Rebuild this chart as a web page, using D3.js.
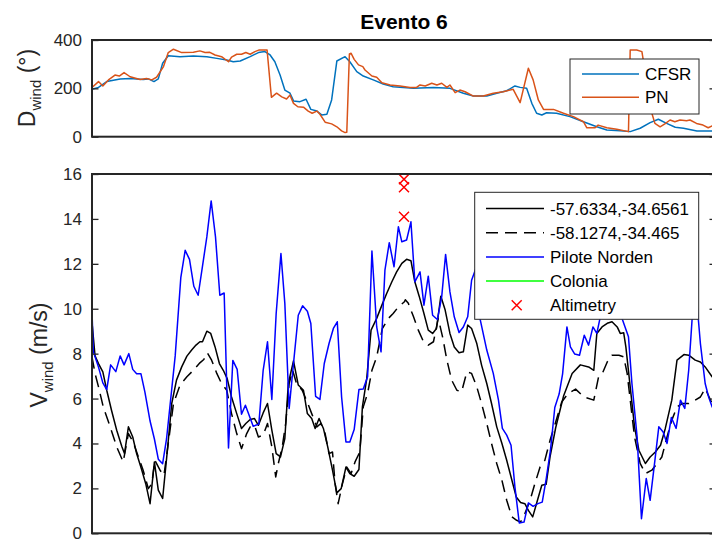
<!DOCTYPE html>
<html>
<head>
<meta charset="utf-8">
<script src="https://cdn.jsdelivr.net/npm/d3@7"></script>
<style>
  body { margin: 0; background: #fff; }
  svg { display: block; font-family: "Liberation Sans", Arial, Helvetica, sans-serif; }
</style>
</head>
<body>
<svg id="chart" width="712" height="539"></svg>
<script>
// ---- Event 6: hourly wind direction and speed (hours since start of event) ----
const hourDomain = [0, 144];
const dirTicks = [0, 200, 400];
const speedTicks = [0, 2, 4, 6, 8, 10, 12, 14, 16];

// Wind direction (degrees)
const cfsrDir = [[0,196],[1.5,204],[3.4,228],[6.5,239],[8.8,241],[11.8,237],[13,239],[14.3,228],[15.3,239],[16.3,304],[17.6,335],[20.3,331],[23.4,334],[26.5,331],[28.8,324],[31.1,317],[32.6,310],[34.2,313],[36.5,331],[38.4,348],[39.9,352],[41.1,338],[42.2,310],[43.4,255],[44.5,193],[45.7,180],[46.5,148],[48,145],[49.4,155],[50.5,113],[51.9,106],[53,90],[54.2,93],[55.3,152],[56.5,313],[58.4,331],[59.5,310],[61.1,269],[62.6,251],[64.9,235],[67.2,218],[69.5,207],[74.2,200],[78.8,204],[82.6,200],[85.7,180],[88,168],[91.1,168],[93.4,180],[95.7,190],[97.6,210],[98.8,204],[100.3,200],[101.5,138],[102.6,97],[103.8,90],[104.9,99],[107.2,97],[110.3,83],[113.4,62],[116.5,41],[118.8,28],[121.9,25],[124.2,21],[126.5,35],[128.8,58],[130.7,72],[132.6,55],[134.6,39],[136.5,35],[139.6,24],[143,24],[144,24]];
const pnDir = [[0,204],[1.5,228],[2.5,210],[3.8,235],[5.3,255],[6.3,251],[7.4,265],[8.8,248],[11.1,237],[12.6,241],[13.8,235],[14.9,246],[16.5,290],[17.6,348],[18.8,362],[20.7,348],[23.4,349],[24.9,355],[26.1,348],[27.2,349],[28.4,338],[29.9,331],[31.5,310],[32.2,329],[33.4,341],[34.5,341],[35.5,348],[36.5,341],[37.6,352],[38.6,359],[40.4,359],[41.4,163],[42.6,180],[43.8,165],[44.9,156],[45.7,172],[46.5,138],[47.5,124],[48.8,122],[49.9,106],[50.8,97],[51.9,106],[52.6,93],[53.8,60],[55.3,53],[56.5,41],[57.6,24],[58.4,17],[58.8,18],[59.4,342],[59.8,345],[60.5,320],[61.5,297],[62.5,290],[63,276],[64.6,251],[65.7,246],[66.9,223],[68.8,214],[71.1,210],[73.4,204],[74.9,204],[75.7,214],[76.9,210],[78.4,221],[79.6,214],[80.7,221],[81.9,204],[82.6,214],[83.8,182],[84.9,193],[86.1,186],[88,168],[90.3,168],[92.6,180],[94.9,186],[97.2,196],[98.8,141],[100.7,283],[101.8,235],[103,152],[104.2,113],[106.5,113],[108.8,97],[111.1,83],[113.4,62],[114.2,37],[116.1,37],[116.8,48],[118.8,37],[121.1,31],[123.8,21],[124.2,359],[125.7,359],[126.9,352],[129.2,97],[129.9,55],[131.1,41],[132.2,53],[133.4,69],[134.5,62],[135.7,69],[137.2,66],[138,69],[139.5,55],[141,48],[142.2,37],[143,44],[144,42]];

// Wind speed (m/s)
const gridA = [[0,9.4],[0.7,7.9],[1.5,7.56],[2.5,7.19],[3.4,6.37],[4.5,5.48],[5.7,4.59],[6.9,3.85],[7.5,3.55],[8.4,4.74],[9.4,4.29],[10.3,3.55],[11.5,2.81],[12.4,2.21],[13.4,1.32],[14.4,3.18],[15.3,1.92],[16.3,1.55],[17.4,3.7],[18.4,5.78],[19.5,6.82],[20.7,7.41],[21.9,7.89],[23,8.16],[24,8.38],[24.9,8.53],[25.5,8.53],[26.5,9],[27.4,8.9],[28.4,8.3],[29.4,7.56],[30.3,7.26],[31.2,6.89],[32.2,6.07],[33.4,5.33],[34.5,4.67],[35.5,4.89],[36.5,5.07],[37.5,5.11],[38.4,4.81],[39.5,5.36],[40.5,5.78],[41.5,4.59],[42.5,3.55],[43.5,3.4],[44.5,4.22],[45.3,6.67],[46.5,7.68],[47.6,6.6],[48.8,6.37],[49.7,5.33],[50.7,5.11],[51.5,4.67],[52.4,5.11],[53.4,4.67],[54.4,3.85],[55.5,2.81],[56.5,1.8],[57.5,1.99],[58.6,2.95],[59.5,2.66],[60.5,2.54],[61.6,2.84],[62.4,5.63],[63.4,6.89],[64.4,9.05],[65.7,9.57],[66.9,10.16],[68,10.68],[69.2,11.2],[70.3,11.64],[71.5,12.02],[72.6,12.2],[73.6,12.14],[74.5,11.2],[75.5,10.56],[76.6,9.79],[77.6,9.05],[78.6,8.9],[79.5,9.12],[80.5,10.56],[81.5,9.94],[82.6,8.9],[83.6,8.3],[84.7,8.04],[85.7,8.08],[86.7,9.27],[87.6,9.12],[88.8,8.45],[89.9,7.49],[91.1,6.67],[92.2,5.78],[93.4,4.74],[94.6,4],[95.7,3.25],[96.9,2.36],[97.9,1.62],[98.9,1.37],[99.9,1.32],[100.7,1.02],[101.7,0.73],[102.8,1.47],[103.8,2.14],[104.8,2.18],[105.7,3.4],[107,4.7],[108,5.48],[108.8,6.1],[110.8,7.12],[112.7,7.5],[114.6,7.41],[115.8,7.26],[116.5,8.9],[117.7,9.19],[118.9,9.35],[120,9.42],[121.2,9.19],[121.9,8.9],[122.7,8.93],[123.2,8.3],[124.2,6.52],[125.2,4.74],[126.2,3.7],[127.7,3.11],[128.8,3.4],[130,3.62],[131.2,3.92],[132.3,4.67],[133.8,5.93],[135,7.71],[136.6,7.96],[137.7,7.93],[139.2,7.71],[140.4,7.63],[141.5,7.41],[143.1,6.97],[144,6.8]];
const gridB = [[0,7.86],[0.7,7.12],[1.5,6.52],[2.6,5.63],[4.2,4.74],[5.7,3.85],[7.2,3.18],[8.4,4.44],[9.5,4.07],[10.7,3.4],[11.8,2.81],[13,1.99],[13.8,2.21],[14.5,3.25],[15.7,2.81],[16.6,2.58],[17.6,4],[18.8,5.78],[20.3,6.6],[21.9,6.97],[23.4,7.26],[24.9,7.59],[25.8,7.74],[26.6,8.04],[27.6,7.71],[28.8,7.12],[29.9,6.67],[31.1,6.37],[32.2,5.33],[33.4,4.44],[34.5,3.77],[35.7,4.44],[36.5,4.74],[37.5,4.81],[38.4,4.29],[39.5,4.37],[40.5,4.89],[41.5,3.85],[42.4,2.51],[43,3.11],[43.9,3.85],[44.7,4.89],[45.5,6.67],[46.3,7.26],[47.2,6.67],[48.5,6.37],[49.8,5.78],[50.7,5.33],[51.9,4.74],[52.8,4.89],[53.8,4.44],[54.7,3.55],[55.5,3.62],[56.1,2.21],[56.8,1.32],[57.8,2.21],[58.8,2.95],[59.8,2.66],[60.7,3.18],[61.8,3.62],[62.6,5.63],[63.6,6.23],[64.6,7.26],[65.7,7.86],[67,9.12],[68.4,9.57],[69.5,9.79],[70.7,10.08],[72.1,10.31],[72.3,10.4],[73,10.24],[74.2,9.64],[75.3,9.05],[76.5,8.53],[77.6,8.38],[78.8,8.53],[79.9,9.57],[80.9,8.75],[81.9,7.71],[83,6.82],[84.2,6.37],[85.3,6.3],[86.5,7.19],[87.6,7.12],[88.8,6.52],[89.9,5.78],[91.1,4.89],[92.2,4],[93.4,3.11],[94.6,2.36],[95.7,1.47],[96.9,0.73],[98,0.58],[98.9,0.5],[99.9,0.88],[101.1,1.47],[102.2,2.21],[103.4,2.95],[104.5,3.25],[105.7,4.14],[106.9,4.89],[108.4,5.85],[109.9,6.23],[111.6,6.42],[113.5,6.07],[115.8,5.93],[116.9,6.97],[117.7,7.09],[118.9,7.63],[120,7.93],[121.6,7.93],[122.7,7.86],[123.5,7.12],[124.3,5.78],[125.2,4.29],[126.5,3.11],[127.7,2.66],[129.2,2.81],[130.4,3.11],[131.5,3.4],[132.7,4.29],[133.8,5.04],[135,5.63],[136.2,5.78],[137.7,5.78],[139.2,5.93],[140.4,6.07],[141.5,6.45],[143.1,5.78],[144,5.6]];
const piloteNorden = [[0,9.9],[0.3,8.1],[1.5,7.4],[2.5,6.7],[3.4,6.4],[4.3,7.5],[5.5,7.2],[6.5,7.9],[7.4,7.5],[8.5,8],[9.4,7.3],[10.3,7.1],[11.3,7.1],[12.2,6.3],[13.4,5],[14.4,4.2],[15.3,3.3],[16.3,3.1],[17.2,4.2],[19.2,7.9],[20.5,11.4],[21.5,12.6],[22.5,12.2],[23.5,11],[24.5,10.6],[25.5,11.9],[26.5,13.2],[27.5,14.8],[28.5,13.2],[29.5,10.6],[30.5,10.7],[31.5,3.8],[32.5,7.7],[33.5,7.3],[34.5,5.3],[35.4,5.7],[37.2,4.77],[38.5,4.86],[39.5,7.26],[40.5,8.53],[41.5,5.96],[42.5,9.79],[43.6,12.46],[44.5,10.24],[45.5,5.56],[46.5,7.56],[47.6,9.71],[48.6,10.13],[49.7,9.89],[50.5,9.34],[51.6,6.1],[52.6,5.96],[53.6,7.56],[54.7,8.45],[55.7,9.12],[56.6,9.42],[57.6,6.07],[58.6,4.07],[59.5,4.07],[60.5,4.62],[61.6,6.4],[62.6,6.43],[63.6,6.97],[64.6,12.57],[65.7,9.19],[66.7,8.08],[67.6,11.72],[68.6,12.94],[69.7,11.87],[70.7,13.65],[71.5,12.98],[72.6,13.06],[73.6,13.87],[74.5,11.2],[75.7,11.64],[76.6,10.16],[77.6,11.45],[78.6,9.71],[79.7,9.52],[80.7,10.53],[81.6,12.42],[82.6,10.75],[83.6,9.64],[84.7,8.94],[85.7,9.19],[86.7,9.64],[87.6,11.27],[88.6,11.8],[89.6,9.5],[91.1,8.16],[92.6,7.12],[93.8,5.93],[94.7,4.67],[95.7,4.37],[96.7,3.92],[97.6,2.06],[98.6,0.46],[99.7,0.5],[100.7,1.35],[101.8,1.2],[102.9,1.32],[103.9,1.39],[104.8,2.4],[105.8,3.7],[106.8,5.6],[107.8,6.2],[108.6,7.1],[109.6,9.19],[110.4,8.3],[111.4,7.98],[112.5,7.93],[113.6,8.82],[114.6,8.38],[115.6,9.19],[116.5,8.9],[117.3,9.64],[118.4,11],[119.4,11.6],[120.5,10.8],[121.4,10.2],[122.3,9.58],[123.8,8.75],[124.6,6.67],[125.8,4.29],[126.8,0.65],[127.9,2.44],[128.8,1.47],[129.9,3.25],[130.8,4.74],[131.8,4.51],[132.7,4],[133.7,5.16],[134.8,4.67],[135.8,5.93],[136.8,5.56],[137.7,7.26],[138.5,9.58],[139.5,10.5],[140.4,8.45],[141.5,6.67],[142.3,6.07],[143.1,5.63],[144,5.4]];
const colonia = [];
const altimetry = [[72, 15.77], [72, 15.41], [72, 14.1]];

const dirSeries = [
  { name: "CFSR", data: cfsrDir, color: "#0072BD" },
  { name: "PN",   data: pnDir,   color: "#D95319" }
];
const speedSeries = [
  { name: "-57.6334,-34.6561", data: gridA,        color: "#000000", dash: null },
  { name: "-58.1274,-34.465",  data: gridB,        color: "#000000", dash: "12,7" },
  { name: "Pilote Norden",     data: piloteNorden, color: "#0000FF", dash: null },
  { name: "Colonia",           data: colonia,      color: "#00FF00", dash: null }
];

// ---- layout ----
const svg = d3.select("#chart");
const axisColor = "#262626";
const plotLeft = 92, plotRight = 716;
const dirBox = { top: 40, bottom: 136.7 };
const spdBox = { top: 174, bottom: 533.3 };

const x = d3.scaleLinear().domain(hourDomain).range([plotLeft, plotRight]);
const yDir = d3.scaleLinear().domain([0, 400]).range([dirBox.bottom, dirBox.top]);
const ySpd = d3.scaleLinear().domain([0, 16]).range([spdBox.bottom, spdBox.top]);

const defs = svg.append("defs");
function clip(id, box) {
  defs.append("clipPath").attr("id", id).append("rect")
    .attr("x", plotLeft).attr("y", box.top)
    .attr("width", plotRight - plotLeft).attr("height", box.bottom - box.top);
}
clip("clipDir", dirBox);
clip("clipSpd", spdBox);

function drawAxes(y, ticks, box) {
  const gl = svg.append("g").attr("transform", `translate(${plotLeft},0)`)
    .call(d3.axisLeft(y).tickValues(ticks).tickSize(-6.5).tickPadding(10).tickFormat(d3.format("d")));
  gl.select(".domain").remove();
  gl.selectAll(".tick line").attr("stroke", axisColor).attr("stroke-width", 1.3);
  gl.selectAll(".tick text").attr("fill", axisColor).style("font-size", "17px")
    .style("font-family", '"Liberation Sans", Arial, sans-serif');
  const gr = svg.append("g").attr("transform", `translate(${plotRight},0)`)
    .call(d3.axisRight(y).tickValues(ticks).tickSize(-6.5).tickFormat(""));
  gr.select(".domain").remove();
  gr.selectAll(".tick line").attr("stroke", axisColor).attr("stroke-width", 1.3);
}

function drawBox(box) {
  svg.append("rect")
    .attr("x", plotLeft).attr("y", box.top)
    .attr("width", plotRight - plotLeft).attr("height", box.bottom - box.top)
    .attr("fill", "none").attr("stroke", axisColor).attr("stroke-width", 2);
}

function drawYLabel(main, sub, unit, cx, cy) {
  const t = svg.append("text")
    .attr("transform", `translate(${cx},${cy}) rotate(-90)`)
    .attr("text-anchor", "middle").attr("fill", axisColor)
    .style("font-size", "23px");
  t.append("tspan").text(main);
  t.append("tspan").attr("dy", 6).style("font-size", "15px").text(sub);
  t.append("tspan").attr("dy", -6).text("\u00A0" + unit);
}

const line = (y) => d3.line().x(d => x(d[0])).y(d => y(d[1]));

// ---- direction panel ----
const gDir = svg.append("g").attr("clip-path", "url(#clipDir)");
gDir.selectAll("path").data(dirSeries).join("path")
  .attr("d", s => line(yDir)(s.data))
  .attr("fill", "none").attr("stroke", s => s.color).attr("stroke-width", 1.5)
  .attr("stroke-linejoin", "round");
drawAxes(yDir, dirTicks, dirBox);
drawBox(dirBox);
drawYLabel("D", "wind", "(\u00B0)", 35, 88);

// direction legend
const lgDir = svg.append("g");
lgDir.append("rect").attr("x", 570).attr("y", 59).attr("width", 129).attr("height", 55)
  .attr("fill", "#fff").attr("stroke", axisColor).attr("stroke-width", 1);
dirSeries.forEach((s, i) => {
  const yy = 74 + i * 23.3;
  lgDir.append("line").attr("x1", 582).attr("x2", 639).attr("y1", yy).attr("y2", yy)
    .attr("stroke", s.color).attr("stroke-width", 1.5);
  lgDir.append("text").attr("x", 645).attr("y", yy + 6).attr("fill", "#000")
    .style("font-size", "17px").text(s.name);
});

// ---- speed panel ----
const gSpd = svg.append("g").attr("clip-path", "url(#clipSpd)");
gSpd.selectAll("path.series").data(speedSeries.filter(s => s.data.length)).join("path")
  .attr("class", "series")
  .attr("d", s => line(ySpd)(s.data))
  .attr("fill", "none").attr("stroke", s => s.color).attr("stroke-width", 1.5)
  .attr("stroke-dasharray", s => s.dash).attr("stroke-linejoin", "round");

const cross = (cx, cy, r) => `M${cx - r},${cy - r}L${cx + r},${cy + r}M${cx - r},${cy + r}L${cx + r},${cy - r}`;
gSpd.selectAll("path.alt").data(altimetry).join("path")
  .attr("class", "alt")
  .attr("d", d => cross(x(d[0]), ySpd(d[1]), 5))
  .attr("stroke", "#FF0000").attr("stroke-width", 1.5).attr("fill", "none");

// title
svg.append("text").attr("x", (plotLeft + plotRight) / 2).attr("y", 29)
  .attr("text-anchor", "middle").attr("fill", "#000")
  .style("font-size", "21px").style("font-weight", "bold").text("Evento 6");

// speed legend
const lgSpd = svg.append("g");
lgSpd.append("rect").attr("x", 474.7).attr("y", 192.3).attr("width", 224).attr("height", 127)
  .attr("fill", "#fff").attr("stroke", axisColor).attr("stroke-width", 1);
const legendItems = speedSeries.map(s => ({ ...s, marker: false }))
  .concat([{ name: "Altimetry", color: "#FF0000", marker: true }]);
legendItems.forEach((s, i) => {
  const yy = 208.5 + i * 24.2;
  if (s.marker) {
    lgSpd.append("path").attr("d", cross(516.7, yy, 5))
      .attr("stroke", s.color).attr("stroke-width", 1.5).attr("fill", "none");
  } else {
    lgSpd.append("line").attr("x1", 486).attr("x2", 544).attr("y1", yy).attr("y2", yy)
      .attr("stroke", s.color).attr("stroke-width", 1.5).attr("stroke-dasharray", s.dash);
  }
  lgSpd.append("text").attr("x", 550).attr("y", yy + 6).attr("fill", "#000")
    .style("font-size", "17px").text(s.name);
});

drawAxes(ySpd, speedTicks, spdBox);
drawBox(spdBox);
drawYLabel("V", "wind", "(m/s)", 47, 355);
</script>
</body>
</html>
